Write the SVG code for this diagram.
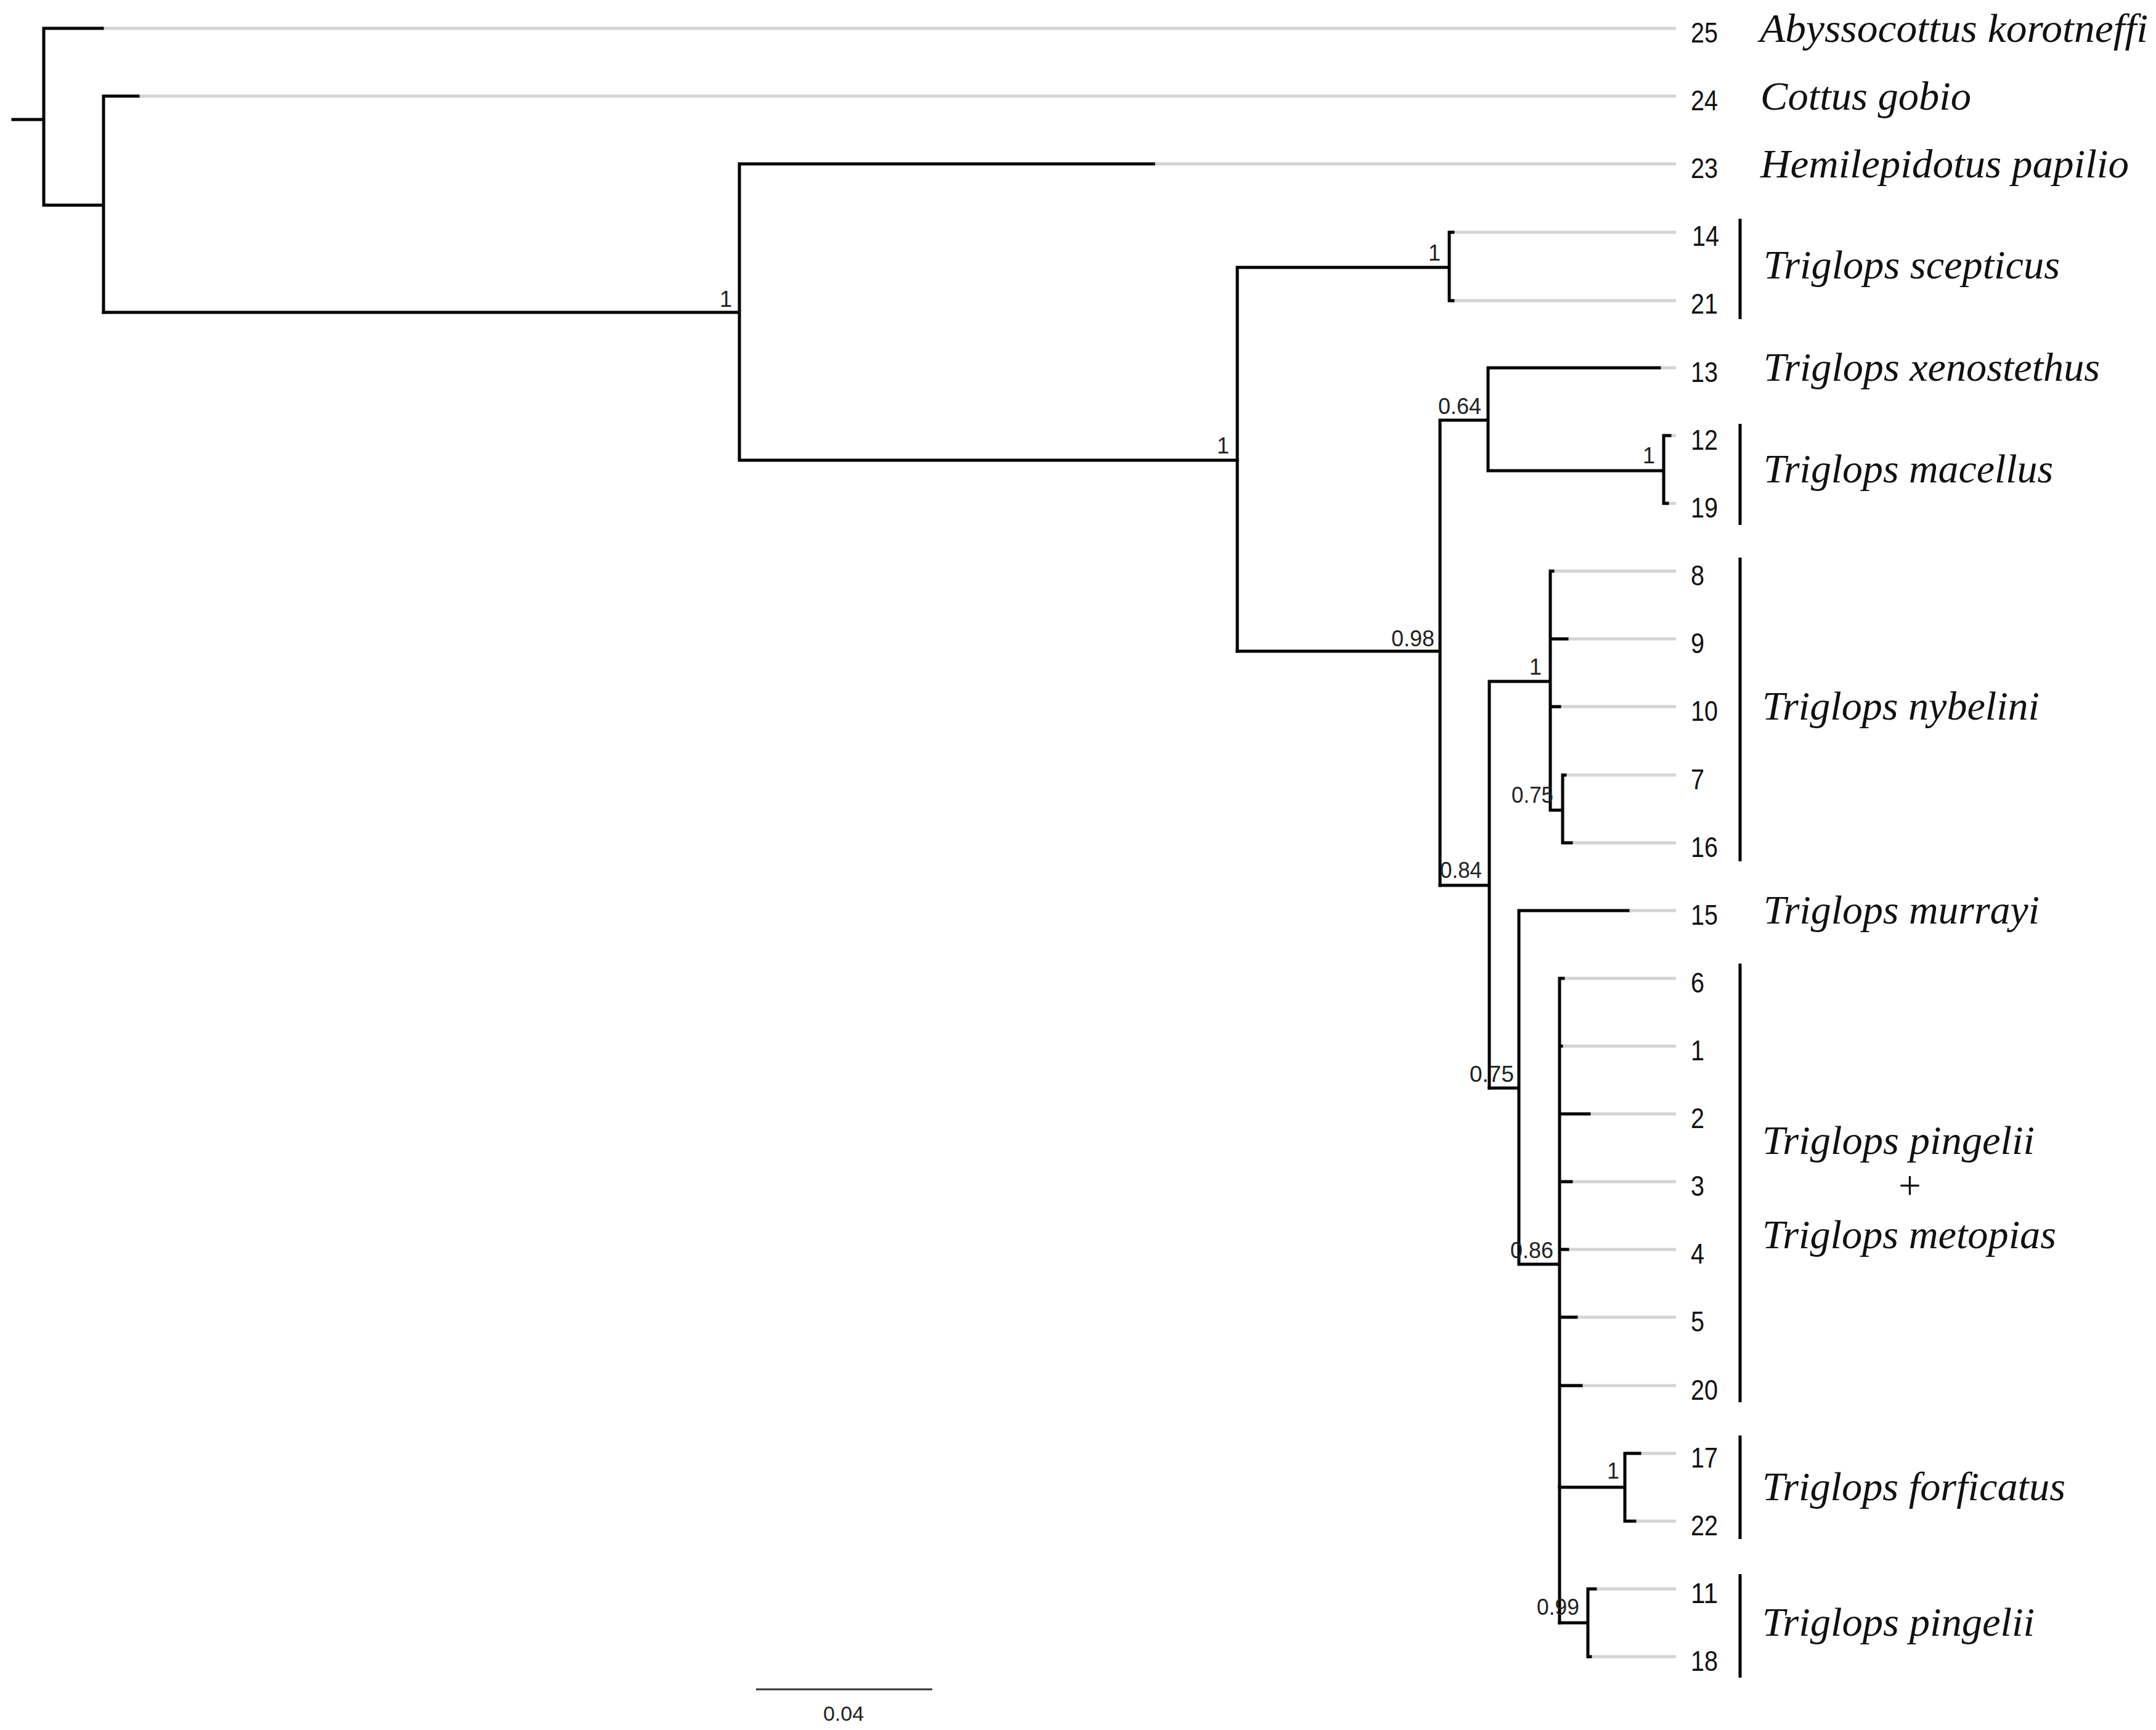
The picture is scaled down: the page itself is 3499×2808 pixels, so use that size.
<svg xmlns="http://www.w3.org/2000/svg" width="3499" height="2808" viewBox="0 0 3499 2808">
<style>
.bg{fill:#ffffff}
.guide{stroke:#d4d4d4;stroke-width:5;fill:none}
.br{stroke:#000;stroke-width:5;fill:none;stroke-linecap:square}
.num{font-family:"Liberation Sans",Arial,sans-serif;font-size:46px;fill:#111}
.sup{font-family:"Liberation Sans",Arial,sans-serif;font-size:36px;fill:#222;text-anchor:end}
.sp{font-family:"Liberation Serif","Times New Roman",serif;font-style:italic;font-size:65px;fill:#111}
.bar{stroke:#000;stroke-width:5}
.scale{stroke:#333;stroke-width:3}
.st{font-family:"Liberation Sans",Arial,sans-serif;font-size:34px;fill:#222;text-anchor:middle}
</style>
<rect class="bg" x="0" y="0" width="3499" height="2808"/>

<g id="guides">
<path class="guide" d="M166,46H2720M224,156H2720M1872,266H2720M2352,377H2720M2352,488H2720M2693,597H2720M2700,707H2720M2700,817H2720M2516,927H2720M2516,1037H2720M2516,1147H2720M2536,1258H2720M2536,1368H2720M2642,1478H2720M2531,1588H2720M2531,1698H2720M2531,1808H2720M2531,1918H2720M2531,2028H2720M2531,2138H2720M2531,2249H2720M2637,2359H2720M2637,2469H2720M2577,2579H2720M2577,2689H2720"/>
</g>

<g id="connectors">
<path class="br" d="M21,194H71M71,46V333M71,46H166M71,333H168M168,156V507M168,156H224"/>
<path class="br" d="M168,507H1200M1200,266V747M1200,266H1872M1200,747H2008"/>
<path class="br" d="M2008,434V1057M2008,434H2352M2352,377V488M2352,377H2358M2352,488H2358"/>
<path class="br" d="M2008,1057H2337M2337,682V1437M2337,682H2415M2415,597V764M2415,597H2693M2415,764H2700M2700,707V817M2700,707H2710M2700,817H2706"/>
<path class="br" d="M2337,1437H2417M2417,1106V1766M2417,1106H2516M2516,927V1315M2516,927H2520M2516,1037H2543M2516,1147H2531M2516,1315H2536M2536,1258V1368M2536,1258H2540M2536,1368H2550"/>
<path class="br" d="M2417,1766H2465M2465,1478V2052M2465,1478H2642M2465,2052H2531M2531,1588V2634M2531,1588H2537M2531,1698H2534M2531,1808H2579M2531,1918H2550M2531,2028H2544M2531,2138H2558M2531,2249H2566"/>
<path class="br" d="M2531,2414H2637M2637,2359V2469M2637,2359H2661M2637,2469H2653M2531,2634H2577M2577,2579V2689M2577,2579H2589M2577,2689H2581"/>
</g>

<g id="node-B"><text class="sup" x="1188" y="498">1</text></g>
<g id="node-C"><text class="sup" x="1995" y="736">1</text></g>
<g id="node-D"><text class="sup" x="2338" y="423">1</text></g>
<g id="node-E"><text class="sup" x="2328" y="1049" textLength="70" lengthAdjust="spacingAndGlyphs">0.98</text></g>
<g id="node-F"><text class="sup" x="2404" y="672" textLength="70" lengthAdjust="spacingAndGlyphs">0.64</text></g>
<g id="node-G"><text class="sup" x="2686" y="752">1</text></g>
<g id="node-I"><text class="sup" x="2405" y="1425" textLength="68" lengthAdjust="spacingAndGlyphs">0.84</text></g>
<g id="node-H"><text class="sup" x="2502" y="1095">1</text></g>
<g id="node-J"><text class="sup" x="2521" y="1303" textLength="68" lengthAdjust="spacingAndGlyphs">0.75</text></g>
<g id="node-K"><text class="sup" x="2457" y="1756" textLength="72" lengthAdjust="spacingAndGlyphs">0.75</text></g>
<g id="node-L"><text class="sup" x="2521" y="2042" textLength="70" lengthAdjust="spacingAndGlyphs">0.86</text></g>
<g id="node-N"><text class="sup" x="2628" y="2400">1</text></g>
<g id="node-M"><text class="sup" x="2563" y="2621" textLength="69" lengthAdjust="spacingAndGlyphs">0.99</text></g>

<g id="tip-25"><text class="num" x="2744" y="69" textLength="44" lengthAdjust="spacingAndGlyphs">25</text></g>
<g id="tip-24"><text class="num" x="2744" y="179" textLength="44" lengthAdjust="spacingAndGlyphs">24</text></g>
<g id="tip-23"><text class="num" x="2744" y="289" textLength="44" lengthAdjust="spacingAndGlyphs">23</text></g>
<g id="tip-14"><text class="num" x="2746" y="399" textLength="44" lengthAdjust="spacingAndGlyphs">14</text></g>
<g id="tip-21"><text class="num" x="2744" y="509" textLength="44" lengthAdjust="spacingAndGlyphs">21</text></g>
<g id="tip-13"><text class="num" x="2744" y="620" textLength="44" lengthAdjust="spacingAndGlyphs">13</text></g>
<g id="tip-12"><text class="num" x="2744" y="730" textLength="44" lengthAdjust="spacingAndGlyphs">12</text></g>
<g id="tip-19"><text class="num" x="2744" y="840" textLength="44" lengthAdjust="spacingAndGlyphs">19</text></g>
<g id="tip-8"><text class="num" x="2744" y="950" textLength="22" lengthAdjust="spacingAndGlyphs">8</text></g>
<g id="tip-9"><text class="num" x="2744" y="1060" textLength="22" lengthAdjust="spacingAndGlyphs">9</text></g>
<g id="tip-10"><text class="num" x="2744" y="1170" textLength="44" lengthAdjust="spacingAndGlyphs">10</text></g>
<g id="tip-7"><text class="num" x="2744" y="1281" textLength="22" lengthAdjust="spacingAndGlyphs">7</text></g>
<g id="tip-16"><text class="num" x="2744" y="1391" textLength="44" lengthAdjust="spacingAndGlyphs">16</text></g>
<g id="tip-15"><text class="num" x="2744" y="1501" textLength="44" lengthAdjust="spacingAndGlyphs">15</text></g>
<g id="tip-6"><text class="num" x="2744" y="1611" textLength="22" lengthAdjust="spacingAndGlyphs">6</text></g>
<g id="tip-1"><text class="num" x="2744" y="1721" textLength="22" lengthAdjust="spacingAndGlyphs">1</text></g>
<g id="tip-2"><text class="num" x="2744" y="1831" textLength="22" lengthAdjust="spacingAndGlyphs">2</text></g>
<g id="tip-3"><text class="num" x="2744" y="1941" textLength="22" lengthAdjust="spacingAndGlyphs">3</text></g>
<g id="tip-4"><text class="num" x="2744" y="2051" textLength="22" lengthAdjust="spacingAndGlyphs">4</text></g>
<g id="tip-5"><text class="num" x="2744" y="2161" textLength="22" lengthAdjust="spacingAndGlyphs">5</text></g>
<g id="tip-20"><text class="num" x="2744" y="2272" textLength="44" lengthAdjust="spacingAndGlyphs">20</text></g>
<g id="tip-17"><text class="num" x="2744" y="2382" textLength="44" lengthAdjust="spacingAndGlyphs">17</text></g>
<g id="tip-22"><text class="num" x="2744" y="2492" textLength="44" lengthAdjust="spacingAndGlyphs">22</text></g>
<g id="tip-11"><text class="num" x="2744" y="2602" textLength="44" lengthAdjust="spacingAndGlyphs">11</text></g>
<g id="tip-18"><text class="num" x="2744" y="2712" textLength="44" lengthAdjust="spacingAndGlyphs">18</text></g>

<g id="sp-abyssocottus"><text class="sp" x="2856" y="68" textLength="630" lengthAdjust="spacingAndGlyphs">Abyssocottus korotneffi</text></g>
<g id="sp-cottus"><text class="sp" x="2857" y="178" textLength="342" lengthAdjust="spacingAndGlyphs">Cottus gobio</text></g>
<g id="sp-hemilepidotus"><text class="sp" x="2857" y="288" textLength="598" lengthAdjust="spacingAndGlyphs">Hemilepidotus papilio</text></g>
<g id="sp-scepticus"><line class="bar" x1="2824" y1="355" x2="2824" y2="518"/><text class="sp" x="2862" y="452" textLength="481" lengthAdjust="spacingAndGlyphs">Triglops scepticus</text></g>
<g id="sp-xenostethus"><text class="sp" x="2862" y="618" textLength="546" lengthAdjust="spacingAndGlyphs">Triglops xenostethus</text></g>
<g id="sp-macellus"><line class="bar" x1="2824" y1="688" x2="2824" y2="852"/><text class="sp" x="2862" y="783" textLength="470" lengthAdjust="spacingAndGlyphs">Triglops macellus</text></g>
<g id="sp-nybelini"><line class="bar" x1="2824" y1="905" x2="2824" y2="1398"/><text class="sp" x="2860" y="1168" textLength="450" lengthAdjust="spacingAndGlyphs">Triglops nybelini</text></g>
<g id="sp-murrayi"><text class="sp" x="2862" y="1499" textLength="448" lengthAdjust="spacingAndGlyphs">Triglops murrayi</text></g>
<g id="sp-pingelii-metopias"><line class="bar" x1="2824" y1="1564" x2="2824" y2="2276"/><text class="sp" x="2860" y="1873" textLength="442" lengthAdjust="spacingAndGlyphs">Triglops pingelii</text><text class="sp" x="3099" y="1946" text-anchor="middle">+</text><text class="sp" x="2860" y="2026" textLength="477" lengthAdjust="spacingAndGlyphs">Triglops metopias</text></g>
<g id="sp-forficatus"><line class="bar" x1="2824" y1="2330" x2="2824" y2="2498"/><text class="sp" x="2860" y="2435" textLength="492" lengthAdjust="spacingAndGlyphs">Triglops forficatus</text></g>
<g id="sp-pingelii"><line class="bar" x1="2824" y1="2555" x2="2824" y2="2723"/><text class="sp" x="2860" y="2655" textLength="442" lengthAdjust="spacingAndGlyphs">Triglops pingelii</text></g>

<g id="scale-bar"><line class="scale" x1="1227" y1="2742" x2="1513" y2="2742"/><text class="st" x="1369" y="2793">0.04</text></g>
</svg>
